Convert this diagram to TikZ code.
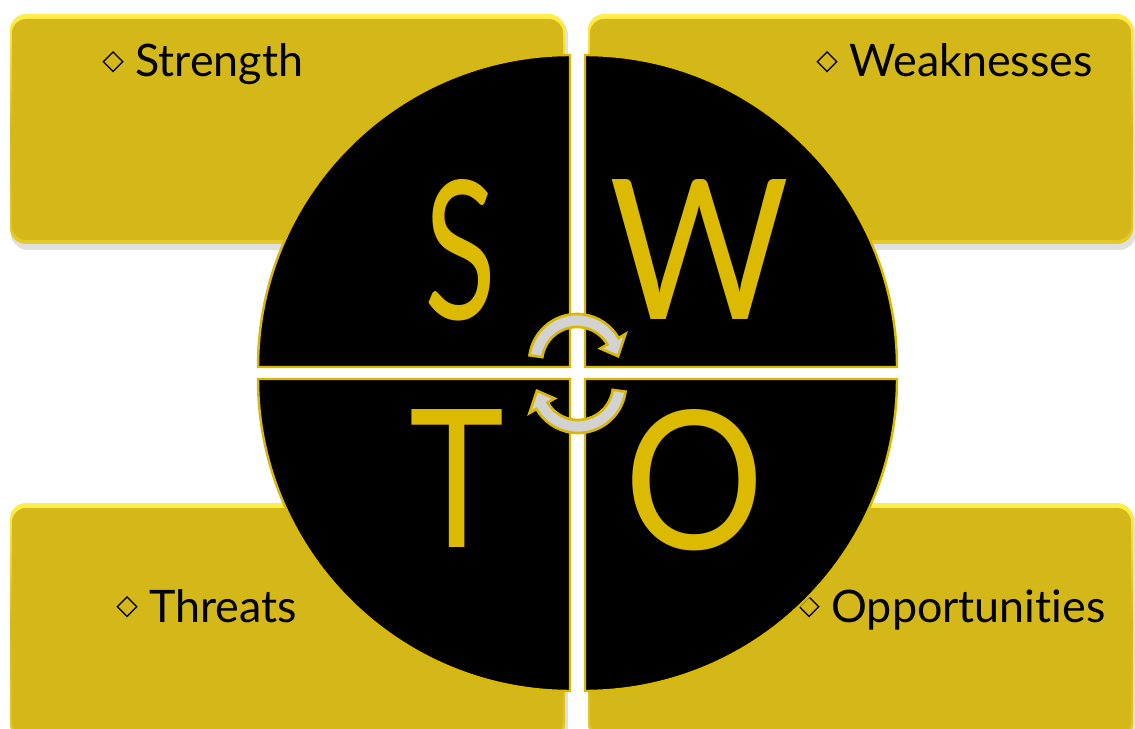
\documentclass[tikz,border=0pt]{standalone}
\usepackage{fontspec}
\setmainfont{Lato}[Ligatures=NoCommon]
\newfontfamily\symfont{DejaVu Sans}
\definecolor{boxY}{HTML}{D4B81A}
\definecolor{boxHi}{HTML}{FFEF4A}
\definecolor{boxLo}{HTML}{E2C92C}
\definecolor{qY}{HTML}{D8B800}
\definecolor{letY}{HTML}{DCBA00}
\definecolor{arrG}{HTML}{D2D2D2}
\begin{document}
\begin{tikzpicture}[x=0.02cm,y=-0.02cm,
  quad/.style={fill=black, draw=qY, line width=1.4pt, line join=miter},
  lbl/.style={font=\fontsize{25.5pt}{30pt}\selectfont, text=black, inner sep=0pt, anchor=base west},
  bigletter/.style={text=letY, inner sep=0pt},
  arr/.style={fill=arrG, draw=qY, line width=1.5pt, line join=miter},
  boxshadow/.style={fill=black, opacity=0.12, rounded corners=0.34cm},
  boxouter/.style={top color=boxHi, bottom color=boxLo, middle color=boxY, rounded corners=0.32cm},
  boxinner/.style={fill=boxY, rounded corners=0.28cm}]
\useasboundingbox (0,0) rectangle (1135,729);
\fill[white] (0,0) rectangle (1135,729);
% panels
\foreach \xa/\ya/\xb/\yb in {10/14/565/244, 588/14/1133/244, 10/503/565/740, 588/503/1133/740}{
  \fill[boxshadow] (\xa+1,\ya+4) rectangle (\xb+3,\yb+6);
  \shade[boxouter] (\xa,\ya) rectangle (\xb,\yb);
  \fill[boxinner] (\xa+2,\ya+5) rectangle (\xb-2,\yb-4);
}
% labels
\newcommand\dia{\raisebox{4.5pt}{\symfont\bfseries\fontsize{16pt}{16pt}\selectfont ◇}}
\node[lbl] (ls) at (102,77) {\dia\ Strength};
\node[lbl] (lw) at (816,77) {\dia\ Weaknesses};
\node[lbl] (lt) at (116,622) {\dia\ Threats};
\node[lbl] (lo) at (798,622) {\dia\ Opportunities};
% quadrants
\draw[quad] (570,367) -- (258,367) arc[start angle=180, end angle=270, radius=312] -- cycle;
\draw[quad] (585,367) -- (897,367) arc[start angle=0, end angle=-90, radius=312] -- cycle;
\draw[quad] (570,379) -- (258,379) arc[start angle=180, end angle=90, radius=312] -- cycle;
\draw[quad] (585,379) -- (897,379) arc[start angle=0, end angle=90, radius=312] -- cycle;
% letters
\node[bigletter] (s) at (461,250) {\resizebox{1.44cm}{2.8cm}{S}};
\node[bigletter] (w) at (700,250) {\resizebox{3.6cm}{2.8cm}{W}};
\node[bigletter] (t) at (457,479) {\resizebox{1.9cm}{2.76cm}{T}};
\node[bigletter] (o) at (695,480) {\resizebox{2.8cm}{2.8cm}{O}};
% cycle arrows
\begin{scope}[shift={(577,362)}]
  \draw[arr] (188:48) arc[start angle=188, end angle=330, radius=48] -- (330:56) -- (352:41.5) -- (330:27) -- (330:35) arc[start angle=330, end angle=188, radius=35] -- cycle;
\end{scope}
\begin{scope}[shift={(578,385)}, rotate=180]
  \draw[arr] (188:48) arc[start angle=188, end angle=330, radius=48] -- (330:56) -- (352:41.5) -- (330:27) -- (330:35) arc[start angle=330, end angle=188, radius=35] -- cycle;
\end{scope}
\end{tikzpicture}
\end{document}
